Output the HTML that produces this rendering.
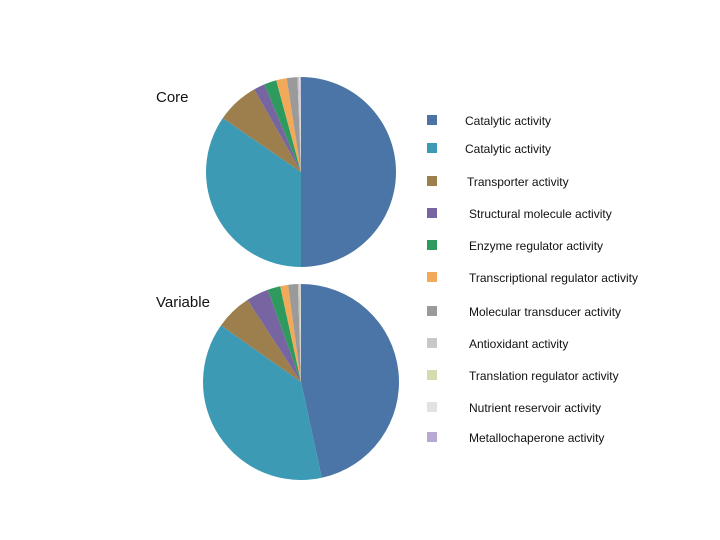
<!DOCTYPE html>
<html><head><meta charset="utf-8"><style>
body{margin:0;background:#fff;}
svg{display:block;font-family:"Liberation Sans",sans-serif;}
</style></head><body>
<svg id="chart" width="720" height="540">
<text x="156" y="102" font-size="15" fill="#111">Core</text>
<text x="156" y="307" font-size="15" fill="#111">Variable</text>
<g id="pies"></g>
<g id="legend"></g>
</svg>
<script>
const categories=["Catalytic activity","Catalytic activity","Transporter activity","Structural  molecule activity","Enzyme regulator activity","Transcriptional regulator activity","Molecular transducer activity","Antioxidant activity","Translation regulator activity","Nutrient reservoir activity","Metallochaperone activity"];
const colors=["#4a75a6","#3d9ab5","#9c7f4c","#7665a0","#2f9a5e","#f2a95a","#9a9a9a","#c8c8c8","#d3dcae","#e2e2e2","#b7a9d3"];
const coreValues=[50,34.6,7.2,1.9,2.1,1.8,1.8,0.3,0.1,0.1,0.1];
const variableValues=[46.6,38.2,6,3.7,2.1,1.3,1.6,0.3,0.1,0.05,0.05];
const legendX=[427,427,427,427,427,427,427,427,427,427,427];
const NS="http://www.w3.org/2000/svg";
function drawPie(vals,cx,cy,r,name){
  const g=document.getElementById('pies');
  const total=vals.reduce((a,b)=>a+b,0);
  let a0=0;
  vals.forEach((v,i)=>{
    const a1=a0+v/total*2*Math.PI;
    const x0=cx+r*Math.sin(a0),y0=cy-r*Math.cos(a0),x1=cx+r*Math.sin(a1),y1=cy-r*Math.cos(a1);
    const p=document.createElementNS(NS,'path');
    p.setAttribute('d',`M${cx},${cy}L${x0},${y0}A${r},${r} 0 ${a1-a0>Math.PI?1:0} 1 ${x1},${y1}Z`);
    p.setAttribute('fill',colors[i]);
    
    
    g.appendChild(p);
    a0=a1;
  });
}
drawPie(coreValues,301,172,95,'core');
drawPie(variableValues,301,382,98,'variable');
const lg=document.getElementById('legend');
const ys=[120,148,181,213,245,277,311,343,375,407,437];
categories.forEach((c,i)=>{
  const r=document.createElementNS(NS,'rect');
  r.setAttribute('x',427);r.setAttribute('y',ys[i]-5);r.setAttribute('width',10);r.setAttribute('height',10);
  r.setAttribute('fill',colors[i]);
  
  
  lg.appendChild(r);
  const t=document.createElementNS(NS,'text');
  t.setAttribute('x',i<2?465:(i<3?467:469));t.setAttribute('y',ys[i]+5);
  t.setAttribute('font-size','12');t.setAttribute('fill','#111');
  t.textContent=c;
  
  
  lg.appendChild(t);
});
</script>
</body></html>
